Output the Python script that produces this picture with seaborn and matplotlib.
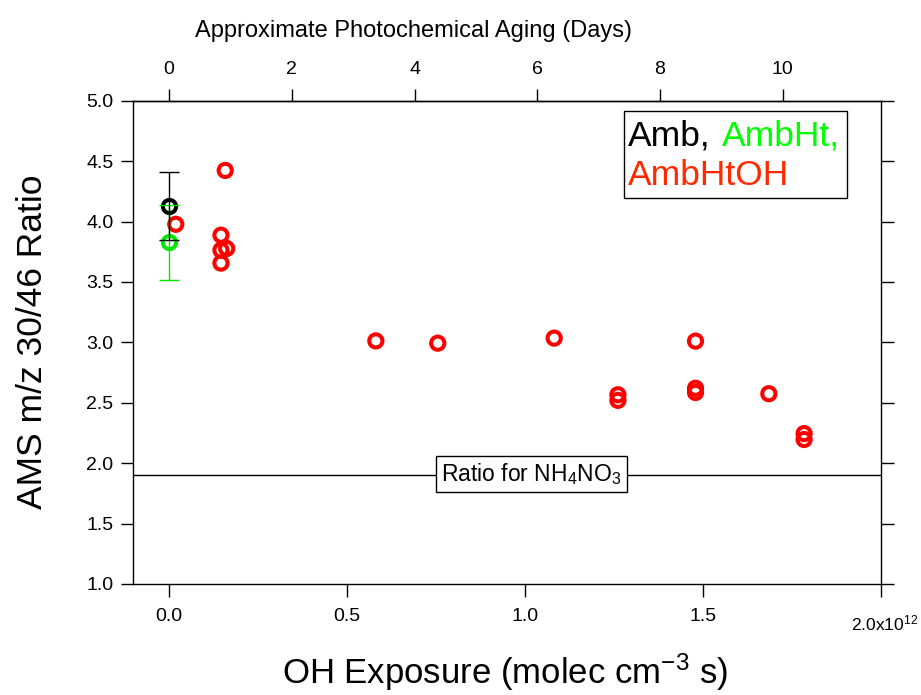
import matplotlib
matplotlib.use("Agg")
import matplotlib.pyplot as plt
import seaborn as sns
import pandas as pd
from matplotlib.patches import Rectangle

# ---- data (OH exposure in units of 1e12 molec cm^-3 s) ----
amb_x = [0.0]
amb_y = [4.126]
amb_err = [0.28]

ht_x = [0.0]
ht_y = [3.829]
ht_err = [0.31]

htoh_x = [0.019, 0.158, 0.146, 0.146, 0.162, 0.146, 0.581, 0.755, 1.082,
          1.261, 1.261, 1.479, 1.479, 1.479, 1.685, 1.784, 1.784]
htoh_y = [3.977, 4.423, 3.887, 3.763, 3.777, 3.656, 3.012, 2.993, 3.035,
          2.566, 2.520, 3.010, 2.620, 2.585, 2.575, 2.245, 2.196]

nh4no3_ratio = 1.9
days_per_unit = 5.8

x_ticks = [0.0, 0.5, 1.0, 1.5, 2.0]
x_ticklabels = ["0.0", "0.5", "1.0", "1.5", ""]
y_ticks = [1.0, 1.5, 2.0, 2.5, 3.0, 3.5, 4.0, 4.5, 5.0]
top_ticks = [0, 2, 4, 6, 8, 10]

RED = "#ff0000"
GREEN = "#00e600"
BLACK = "#000000"

sns.set_style("ticks")
plt.rcParams["font.family"] = ["Liberation Sans", "DejaVu Sans"]
plt.rcParams["mathtext.fontset"] = "custom"
plt.rcParams["mathtext.rm"] = "Liberation Sans"
plt.rcParams["mathtext.it"] = "Liberation Sans"
plt.rcParams["mathtext.bf"] = "Liberation Sans"
for k in ["text.color", "axes.labelcolor", "xtick.color", "ytick.color",
          "axes.edgecolor"]:
    plt.rcParams[k] = "black"

W, H = 921, 695
fig = plt.figure(figsize=(W / 100, H / 100), dpi=100)
ax = fig.add_axes([133 / W, 1 - 584 / H, (881 - 133) / W, (584 - 100.7) / H])

MS = 9.5
MEW = 2.9

d = pd.DataFrame({"x": htoh_x, "y": htoh_y})
sns.scatterplot(data=d, x="x", y="y", marker="o", s=MS ** 2,
                facecolors="none", edgecolor=RED, linewidth=MEW,
                legend=False, ax=ax, zorder=2)
c = ax.collections[-1]
c.set_facecolors("none")
c.set_edgecolors(RED)
c.set_linewidths(MEW)

ax.plot(ht_x, ht_y, ls="none", marker="o", ms=MS, mew=MEW, mfc="none",
        mec=GREEN, zorder=2)
ax.plot(amb_x, amb_y, ls="none", marker="o", ms=MS, mew=MEW, mfc="none",
        mec=BLACK, zorder=2)

ax.errorbar(ht_x, ht_y, yerr=ht_err, fmt="none", ecolor=GREEN,
            elinewidth=1.0, capsize=7, capthick=1.0, zorder=3)
ax.errorbar(amb_x, amb_y, yerr=amb_err, fmt="none", ecolor=BLACK,
            elinewidth=1.0, capsize=7, capthick=1.0, zorder=4)

ax.axhline(nh4no3_ratio, color="black", lw=1.0, zorder=1)
ax.text((531.5 - 133) / (881 - 133), (584 - 473.7) / (584 - 100.7),
        r"Ratio for NH$_4$NO$_3$", transform=ax.transAxes,
        ha="center", va="center", fontsize=16.5,
        bbox=dict(boxstyle="square,pad=0.22", fc="white", ec="black", lw=1.0),
        zorder=5)

ax.set_xlim(-0.1011, 2.0)
ax.set_ylim(1.0, 5.0)
ax.set_xticks(x_ticks)
ax.set_xticklabels(x_ticklabels)
ax.set_yticks(y_ticks)
ax.set_yticklabels([f"{v:.1f}" for v in y_ticks])
ax.set_xlabel("")
ax.set_ylabel("")

for sp in ax.spines.values():
    sp.set_visible(True)
    sp.set_linewidth(1.0)
    sp.set_color("black")

ax.tick_params(axis="both", direction="out", length=9, width=1.0,
               labelsize=14, colors="black")
ax.tick_params(axis="x", pad=8)
ax.tick_params(axis="y", pad=5, right=True, labelright=False)

sec = ax.secondary_xaxis("top", functions=(lambda x: x * days_per_unit,
                                            lambda d: d / days_per_unit))
sec.set_xticks(top_ticks)
sec.set_xticklabels([str(t) for t in top_ticks])
sec.tick_params(direction="out", length=9, width=1.0, labelsize=14, pad=7,
                colors="black")
sec.spines["top"].set_linewidth(1.0)

# axis titles
fig.text(32 / W, 1 - 342 / H, "AMS m/z 30/46 Ratio", rotation=90,
         ha="center", va="center", fontsize=25.5)
fig.text(505 / W, 1 - 684 / H, r"OH Exposure (molec cm$^{-3}$ s)",
         ha="center", va="baseline", fontsize=25)
fig.text(413 / W, 1 - 37 / H, "Approximate Photochemical Aging (Days)",
         ha="center", va="baseline", fontsize=17)
fig.text(851 / W, 1 - 630 / H, r"2.0x10$^{12}$", ha="left", va="baseline",
         fontsize=12.5)

# legend-like text box
fig.patches.append(Rectangle((624 / W, 1 - 198 / H), (847 - 624) / W,
                             (198 - 111) / H, transform=fig.transFigure,
                             fill=False, ec="black", lw=1.0))
fig.text(628 / W, 1 - 145 / H, "Amb,", ha="left", va="baseline",
         fontsize=25.5, color=BLACK)
fig.text(722 / W, 1 - 145 / H, "AmbHt,", ha="left", va="baseline",
         fontsize=25.5, color="#00ff00")
fig.text(628 / W, 1 - 185 / H, "AmbHtOH", ha="left", va="baseline",
         fontsize=25.5, color="#ff2a00")

fig.savefig("out.png", dpi=100)
